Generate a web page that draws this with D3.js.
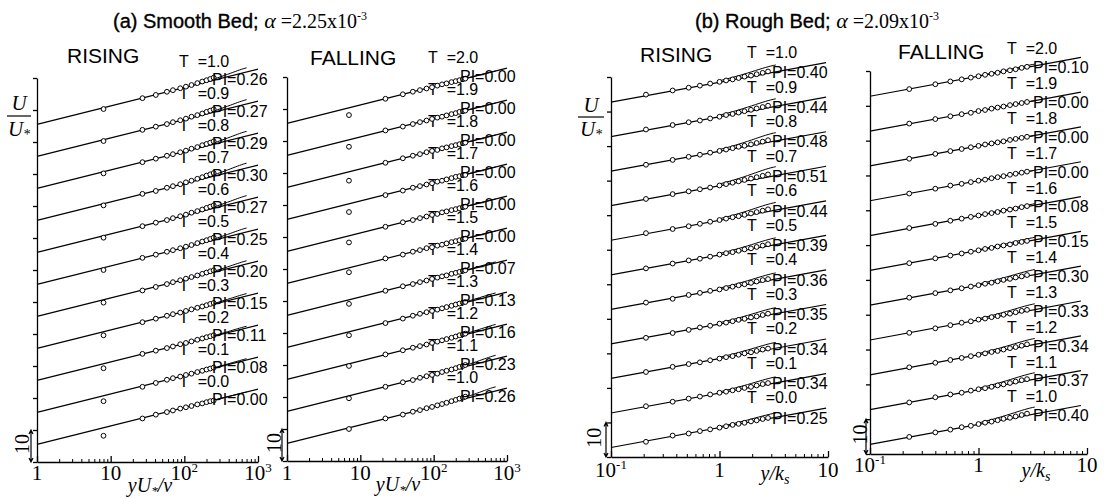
<!DOCTYPE html>
<html>
<head>
<meta charset="utf-8">
<script src="https://cdn.jsdelivr.net/npm/d3@7"></script>
<style>
  body { margin: 0; background: #fff; }
  svg text { font-family: "Liberation Sans", Arial, sans-serif; fill: #000; }
  svg .serif { font-family: "Liberation Serif", "Times New Roman", serif; }
</style>
</head>
<body>
<svg id="chart" width="1107" height="498"></svg>
<script>
// ---- data (profiles listed bottom -> top) ----

// (a) smooth bed, rising limb
const smoothRisingT = ['0.0', '0.1', '0.2', '0.3', '0.4', '0.5', '0.6', '0.7', '0.8', '0.9', '1.0'];
const smoothRisingPI = [0.00, 0.08, 0.11, 0.15, 0.20, 0.25, 0.27, 0.30, 0.29, 0.27, 0.26];
const smoothRisingYPlus = [8, 27, 41, 58, 70, 88, 105, 125, 150, 175, 200, 225, 250];
const smoothRisingU = [
  [8.2, 13.6, 14.8, 15.6, 16.1, 16.7, 17.1, 17.5, 18.0, 18.3, 18.7, 19.0, 19.2],
  [9.0, 13.5, 14.7, 15.7, 16.2, 16.7, 17.2, 17.6, 18.1, 18.5, 18.9, 19.2, 19.5],
  [9.3, 13.8, 14.8, 15.6, 16.1, 16.8, 17.2, 17.7, 18.2, 18.6, 19.0, 19.3, 19.6],
  [9.6, 13.7, 14.8, 15.7, 16.2, 16.7, 17.2, 17.7, 18.2, 18.6, 19.0, 19.4, 19.7],
  [9.8, 13.6, 14.7, 15.6, 16.2, 16.8, 17.3, 17.8, 18.3, 18.8, 19.2, 19.6, 19.9],
  [10.0, 13.8, 14.8, 15.7, 16.2, 16.8, 17.3, 17.8, 18.4, 18.9, 19.3, 19.7, 20.1],
  [10.1, 13.7, 14.8, 15.6, 16.2, 16.8, 17.3, 17.9, 18.4, 18.9, 19.4, 19.8, 20.2],
  [10.2, 13.8, 14.7, 15.7, 16.2, 16.8, 17.4, 17.9, 18.5, 19.0, 19.5, 19.9, 20.3],
  [10.2, 13.7, 14.8, 15.7, 16.2, 16.8, 17.3, 17.9, 18.4, 19.0, 19.4, 19.8, 20.2],
  [10.3, 13.8, 14.8, 15.6, 16.2, 16.8, 17.3, 17.9, 18.4, 18.9, 19.4, 19.8, 20.2],
  [10.3, 13.7, 14.7, 15.7, 16.2, 16.8, 17.3, 17.8, 18.4, 18.9, 19.3, 19.7, 20.1]
];

// (a) smooth bed, falling limb
const smoothFallingT = ['1.0', '1.1', '1.2', '1.3', '1.4', '1.5', '1.6', '1.7', '1.8', '1.9', '2.0'];
const smoothFallingPI = [0.26, 0.23, 0.16, 0.13, 0.07, 0.00, 0.00, 0.00, 0.00, 0.00, 0.00];
const smoothFallingYPlus = [7, 22, 38, 52, 65, 80, 95, 112, 130, 150, 175, 200, 225, 250, 270];
const smoothFallingU = [
  [10.0, 13.3, 14.5, 15.4, 15.9, 16.5, 16.9, 17.4, 17.8, 18.2, 18.7, 19.1, 19.5, 19.8, 20.1],
  [9.6, 13.2, 14.6, 15.3, 16.0, 16.5, 16.9, 17.3, 17.8, 18.2, 18.6, 19.0, 19.4, 19.7, 20.0],
  [9.7, 13.3, 14.6, 15.4, 15.9, 16.4, 16.9, 17.3, 17.7, 18.1, 18.5, 18.9, 19.3, 19.6, 19.8],
  [9.3, 13.1, 14.5, 15.4, 16.0, 16.5, 16.9, 17.3, 17.7, 18.1, 18.5, 18.9, 19.2, 19.5, 19.7],
  [9.1, 13.2, 14.6, 15.3, 15.9, 16.4, 16.9, 17.3, 17.7, 18.0, 18.5, 18.8, 19.1, 19.4, 19.6],
  [9.0, 13.3, 14.5, 15.4, 15.9, 16.5, 16.8, 17.3, 17.6, 18.0, 18.4, 18.7, 19.0, 19.3, 19.5],
  [8.3, 13.2, 14.6, 15.3, 15.9, 16.4, 16.9, 17.2, 17.7, 18.0, 18.4, 18.7, 19.0, 19.3, 19.5],
  [7.8, 13.1, 14.5, 15.4, 15.9, 16.4, 16.8, 17.3, 17.6, 18.0, 18.4, 18.8, 19.0, 19.3, 19.4],
  [7.6, 13.2, 14.6, 15.4, 15.9, 16.5, 16.9, 17.2, 17.7, 18.0, 18.4, 18.7, 19.0, 19.3, 19.5],
  [8.2, 13.3, 14.5, 15.3, 15.9, 16.4, 16.9, 17.3, 17.6, 18.0, 18.4, 18.7, 19.1, 19.3, 19.5],
  [8.1, 13.2, 14.6, 15.4, 15.9, 16.4, 16.8, 17.3, 17.7, 18.0, 18.4, 18.7, 19.0, 19.3, 19.5]
];

// (b) rough bed, rising limb
const roughRisingT = ['0.0', '0.1', '0.2', '0.3', '0.4', '0.5', '0.6', '0.7', '0.8', '0.9', '1.0'];
const roughRisingPI = [0.25, 0.34, 0.34, 0.35, 0.36, 0.39, 0.44, 0.51, 0.48, 0.44, 0.40];
const roughRisingYks = [0.21, 0.37, 0.52, 0.66, 0.82, 1.0, 1.15, 1.32, 1.5, 1.7, 1.95, 2.2, 2.5, 2.8];
const roughRisingU = [
  [4.4, 6.2, 6.8, 7.5, 8.0, 8.5, 8.9, 9.3, 9.6, 9.9, 10.3, 10.6, 11.0, 11.3],
  [4.7, 6.0, 6.9, 7.5, 8.1, 8.6, 8.9, 9.3, 9.6, 10.0, 10.3, 10.7, 11.1, 11.4],
  [4.6, 6.1, 6.9, 7.4, 8.0, 8.5, 8.9, 9.2, 9.6, 10.0, 10.3, 10.7, 11.1, 11.4],
  [4.5, 5.9, 6.8, 7.5, 8.0, 8.6, 8.9, 9.3, 9.7, 10.0, 10.4, 10.7, 11.1, 11.5],
  [4.7, 5.8, 6.9, 7.5, 8.1, 8.5, 8.9, 9.3, 9.7, 10.0, 10.4, 10.8, 11.2, 11.5],
  [4.6, 6.0, 6.9, 7.4, 8.0, 8.6, 9.0, 9.3, 9.7, 10.1, 10.4, 10.8, 11.2, 11.6],
  [4.8, 6.0, 6.8, 7.5, 8.1, 8.6, 9.0, 9.4, 9.7, 10.1, 10.5, 10.9, 11.3, 11.7],
  [4.7, 6.1, 6.9, 7.5, 8.0, 8.6, 9.0, 9.4, 9.8, 10.2, 10.6, 11.0, 11.4, 11.8],
  [4.6, 6.0, 6.9, 7.5, 8.1, 8.6, 9.0, 9.4, 9.8, 10.1, 10.5, 10.9, 11.3, 11.7],
  [4.8, 6.1, 6.9, 7.4, 8.0, 8.5, 9.0, 9.3, 9.7, 10.1, 10.5, 10.9, 11.3, 11.7],
  [4.9, 6.1, 6.9, 7.5, 8.1, 8.6, 9.0, 9.3, 9.7, 10.1, 10.4, 10.8, 11.2, 11.6]
];

// (b) rough bed, falling limb
const roughFallingT = ['1.0', '1.1', '1.2', '1.3', '1.4', '1.5', '1.6', '1.7', '1.8', '1.9', '2.0'];
const roughFallingPI = [0.40, 0.37, 0.34, 0.33, 0.30, 0.15, 0.08, 0.00, 0.00, 0.00, 0.10];
const roughFallingYks = [0.23, 0.4, 0.55, 0.7, 0.85, 1.0, 1.15, 1.32, 1.5, 1.7, 1.95, 2.2, 2.5, 2.8];
const roughFallingU = [
  [4.9, 6.2, 7.0, 7.7, 8.1, 8.6, 9.0, 9.3, 9.7, 10.1, 10.4, 10.8, 11.2, 11.6],
  [4.8, 6.3, 7.1, 7.6, 8.2, 8.6, 8.9, 9.3, 9.7, 10.0, 10.4, 10.8, 11.2, 11.5],
  [4.9, 6.2, 7.0, 7.6, 8.1, 8.5, 8.9, 9.3, 9.6, 10.0, 10.4, 10.7, 11.1, 11.5],
  [4.8, 6.1, 7.0, 7.7, 8.1, 8.6, 8.9, 9.3, 9.6, 10.0, 10.3, 10.7, 11.1, 11.4],
  [4.9, 6.2, 7.0, 7.6, 8.1, 8.5, 8.9, 9.2, 9.6, 10.0, 10.3, 10.7, 11.0, 11.4],
  [4.8, 6.2, 7.0, 7.6, 8.1, 8.5, 8.9, 9.2, 9.6, 9.9, 10.2, 10.6, 10.9, 11.2],
  [4.9, 6.1, 7.0, 7.6, 8.1, 8.5, 8.9, 9.2, 9.5, 9.9, 10.2, 10.5, 10.9, 11.2],
  [4.8, 6.2, 7.1, 7.6, 8.1, 8.5, 8.8, 9.2, 9.5, 9.8, 10.2, 10.5, 10.8, 11.1],
  [4.8, 6.2, 7.0, 7.6, 8.1, 8.5, 8.9, 9.2, 9.5, 9.8, 10.2, 10.5, 10.8, 11.1],
  [4.9, 6.2, 7.0, 7.6, 8.0, 8.5, 8.8, 9.2, 9.5, 9.8, 10.2, 10.5, 10.8, 11.1],
  [4.8, 6.2, 7.0, 7.6, 8.1, 8.5, 8.9, 9.2, 9.5, 9.9, 10.2, 10.5, 10.9, 11.2]
];

// tick labels: [value, base, superscript]
const smoothTicks = [[1, '1', ''], [10, '10', ''], [100, '10', '2'], [1000, '10', '3']];
const roughTicks = [[0.1, '10', '-1'], [1, '1', ''], [10, '10', '']];

// ---- drawing ----
const svg = d3.select('#chart');
const KAPPA = 0.4;

const panels = [
  {xs: smoothRisingYPlus, us: smoothRisingU, T: smoothRisingT, PI: smoothRisingPI, ticks: smoothTicks,
   xDomain: [1, 1000], xRange: [37, 258], yMax: 120, yRange: [462, 78], B: 5.5, lineEnd: 1000, delta: 700,
   tDx: 142, piDx: 175, tDy: 23.4, piDy: 17.8, tickY: 480, barX: 31, barTextX: 23},
  {xs: smoothFallingYPlus, us: smoothFallingU, T: smoothFallingT, PI: smoothFallingPI, ticks: smoothTicks,
   xDomain: [1, 1000], xRange: [287, 507], yMax: 120, yRange: [461, 77], B: 5.5, lineEnd: 1000, delta: 700,
   tDx: 141, piDx: 173, tDy: 24.4, piDy: 18.4, tickY: 480, barX: 282, barTextX: 275},
  {xs: roughRisingYks, us: roughRisingU, T: roughRisingT, PI: roughRisingPI, ticks: roughTicks,
   xDomain: [0.1, 10], xRange: [611, 828], yMax: 110, yRange: [457, 77], B: 8.5, lineEnd: 9.6, delta: 3.3,
   tDx: 136, piDx: 161, tDy: 15.5, piDy: 9.6, tickY: 477, barX: 606, barTextX: 595},
  {xs: roughFallingYks, us: roughFallingU, T: roughFallingT, PI: roughFallingPI, ticks: roughTicks,
   xDomain: [0.1, 10], xRange: [870, 1087], yMax: 110, yRange: [454, 71], B: 8.5, lineEnd: 8.8, delta: 3.3,
   tDx: 137, piDx: 163, tDy: 14.8, piDy: 9.4, tickY: 472, barX: 866, barTextX: 861}
];

panels.forEach(p => {
  const x = d3.scaleLog().domain(p.xDomain).range(p.xRange);
  const y = d3.scaleLinear().domain([0, p.yMax]).range(p.yRange);
  const g = svg.append('g');

  // left axis, ticks outward every 10 units
  g.append('g')
    .attr('transform', `translate(${p.xRange[0]},0)`)
    .call(d3.axisLeft(y).tickValues(d3.range(0, p.yMax + 1, 10)).tickSize(4).tickSizeOuter(0).tickFormat(''))
    .call(a => a.selectAll('path,line').attr('stroke', '#000').attr('stroke-width', 1.3));

  // bottom axis, major + minor log ticks pointing up
  const majors = p.ticks.map(t => t[0]);
  const minors = [];
  majors.slice(0, -1).forEach(m => { for (let i = 2; i < 10; i++) minors.push(m * i); });
  g.append('g')
    .attr('transform', `translate(0,${p.yRange[0]})`)
    .call(d3.axisBottom(x).tickValues(majors).tickSizeInner(-6).tickSizeOuter(0).tickFormat(''))
    .call(a => a.selectAll('path,line').attr('stroke', '#000').attr('stroke-width', 1.3));
  g.append('g')
    .attr('transform', `translate(0,${p.yRange[0]})`)
    .call(d3.axisBottom(x).tickValues(minors).tickSize(-3).tickFormat(''))
    .call(a => a.select('.domain').remove())
    .call(a => a.selectAll('line').attr('stroke', '#000').attr('stroke-width', 1));

  // tick labels
  p.ticks.forEach(t => {
    const tx = g.append('text').attr('class', 'serif')
      .attr('x', x(t[0])).attr('y', p.tickY)
      .attr('text-anchor', 'middle').attr('font-size', 21);
    tx.append('tspan').text(t[1]);
    if (t[2]) tx.append('tspan').attr('dy', -8).attr('font-size', 13).text(t[2]);
  });

  // "10" scale bracket
  const b0 = y(0), b1 = y(10);
  g.append('path')
    .attr('d', `M${p.barX},${b0}V${b1}M${p.barX - 2},${b1 + 4}L${p.barX},${b1}L${p.barX + 2},${b1 + 4}M${p.barX - 2},${b0 - 4}L${p.barX},${b0}L${p.barX + 2},${b0 - 4}`)
    .attr('fill', 'none').attr('stroke', '#000').attr('stroke-width', 1.2);
  g.append('text').attr('class', 'serif')
    .attr('transform', `translate(${p.barTextX + 6},${(b0 + b1) / 2 - 2}) rotate(-90)`)
    .attr('text-anchor', 'middle').attr('font-size', 20).text('10');

  // log law U/U* = (1/kappa) ln(y) + B
  const logLaw = v => p.B + Math.log(v) / KAPPA;
  const line = d3.line().x(d => x(d[0])).y(d => y(d[1]));

  p.us.forEach((u, k) => {
    const off = k * 10;
    g.append('line')
      .attr('x1', x(p.xDomain[0])).attr('y1', y(off + logLaw(p.xDomain[0])))
      .attr('x2', x(p.lineEnd)).attr('y2', y(off + logLaw(p.lineEnd)))
      .attr('stroke', '#000').attr('stroke-width', 1.2);
    // log + wake curve near the outer edge
    const wake = d3.range(0.3, 1.001, 0.05).map(f => {
      const v = f * p.delta;
      return [v, off + logLaw(v) + 2 * p.PI[k] / KAPPA * Math.pow(Math.sin(Math.PI * f / 2), 2)];
    });
    g.append('path').datum(wake).attr('d', line)
      .attr('fill', 'none').attr('stroke', '#000').attr('stroke-width', 1);
    // measured points
    g.selectAll(null)
      .data(p.xs.map((v, i) => [v, off + u[i]]))
      .join('circle')
      .attr('cx', d => x(d[0])).attr('cy', d => y(d[1]))
      .attr('r', 2.4)
      .attr('fill', '#fff').attr('stroke', '#000').attr('stroke-width', 1);
    // labels
    g.append('text')
      .attr('x', p.xRange[0] + p.tDx).attr('y', y(off + p.tDy))
      .attr('font-size', 16)
      .text('T\u00a0\u00a0=' + p.T[k]);
    g.append('text')
      .attr('x', p.xRange[0] + p.piDx).attr('y', y(off + p.piDy))
      .attr('font-size', 16)
      .text('PI=' + p.PI[k].toFixed(2));
  });
});

// panel headings
function heading(xPos, label, alpha) {
  const t = svg.append('text').attr('x', xPos).attr('y', 28).attr('font-size', 20)
    .attr('stroke', '#000').attr('stroke-width', 0.35);
  t.append('tspan').text(label + ' ');
  t.append('tspan').attr('class', 'serif').attr('font-style', 'italic').attr('font-size', 22).attr('stroke-width', 0).text('\u03b1');
  t.append('tspan').attr('class', 'serif').attr('font-size', 20).attr('stroke-width', 0).text(' =' + alpha + 'x10');
  t.append('tspan').attr('class', 'serif').attr('font-size', 12).attr('stroke-width', 0).attr('dy', -8).text('-3');
}
heading(113, '(a) Smooth Bed;', '2.25');
heading(695, '(b) Rough Bed;', '2.09');

[[67, 63, 'RISING'], [310, 65, 'FALLING'], [640, 62, 'RISING'], [898, 59, 'FALLING']].forEach(d => {
  svg.append('text').attr('x', d[0]).attr('y', d[1]).attr('font-size', 21).text(d[2]);
});

// y-axis quantity U/U*
[[19, 110, 116, 136, 7, 31], [591, 112, 117, 136, 578, 604]].forEach(d => {
  svg.append('text').attr('class', 'serif').attr('font-style', 'italic')
    .attr('x', d[0]).attr('y', d[1]).attr('text-anchor', 'middle').attr('font-size', 21).text('U');
  svg.append('line').attr('x1', d[4]).attr('x2', d[5]).attr('y1', d[2]).attr('y2', d[2])
    .attr('stroke', '#000').attr('stroke-width', 1.2);
  const u = svg.append('text').attr('class', 'serif').attr('font-style', 'italic')
    .attr('x', d[0]).attr('y', d[3]).attr('text-anchor', 'middle').attr('font-size', 21);
  u.append('tspan').text('U');
  u.append('tspan').attr('font-size', 14).attr('dy', 3).text('*');
});

// x-axis quantities
[[150, 492], [398, 491]].forEach(d => {
  const t = svg.append('text').attr('class', 'serif').attr('font-style', 'italic')
    .attr('x', d[0]).attr('y', d[1]).attr('text-anchor', 'middle').attr('font-size', 20);
  t.append('tspan').text('yU');
  t.append('tspan').attr('font-size', 13).attr('dy', 3).text('*');
  t.append('tspan').attr('dy', -3).text('/\u03bd');
});
[[775, 480], [1036, 477]].forEach(d => {
  const t = svg.append('text').attr('class', 'serif').attr('font-style', 'italic')
    .attr('x', d[0]).attr('y', d[1]).attr('text-anchor', 'middle').attr('font-size', 20);
  t.append('tspan').text('y/k');
  t.append('tspan').attr('font-size', 14).attr('dy', 4).text('s');
});
</script>
</body>
</html>
